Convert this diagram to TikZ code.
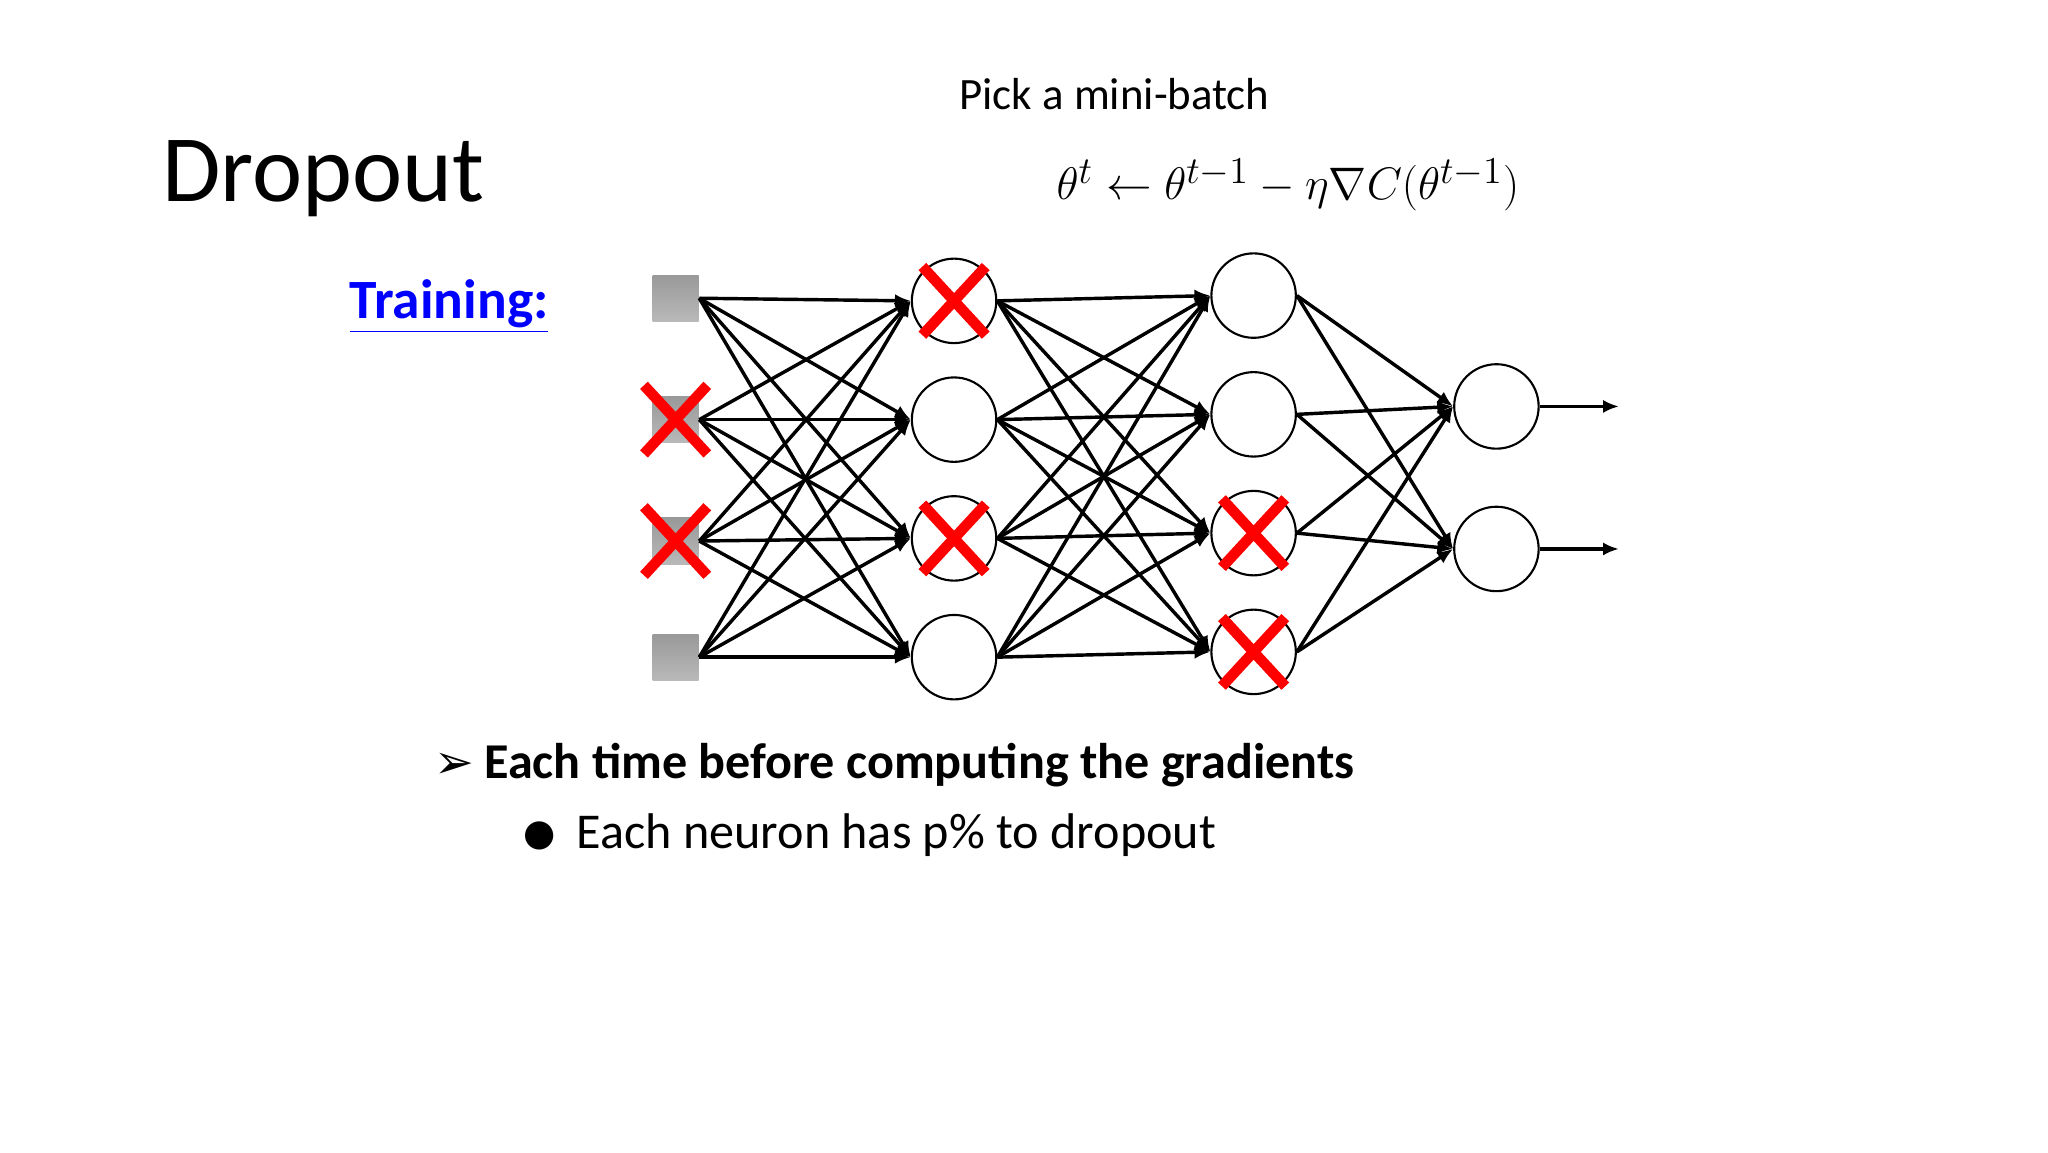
\documentclass[tikz,border=0pt]{standalone}
\usepackage{fontspec}
\setmainfont{Carlito}
\newfontfamily\djv{DejaVu Sans}
\usetikzlibrary{arrows.meta,calc}
\begin{document}
\begin{tikzpicture}[x=0.5pt,y=-0.5pt,
  inp/.style={draw=none,minimum size=17.5pt,inner sep=0pt,top color=gray!80,bottom color=gray!55},
  neu/.style={circle,draw,thick,minimum size=32pt,inner sep=0pt,fill=white},
  edge/.style={line width=1.3pt,-{Latex[length=6pt,width=5pt]}},
  drop/.style={red,line width=4pt}]
\useasboundingbox (0,0) rectangle (1552,873);
\fill[white] (0,0) rectangle (1552,873);
\node[anchor=base west,font=\fontsize{36}{40}\selectfont] (title) at (116,153) {Dropout};
\node[anchor=base west,font=\fontsize{17}{20}\selectfont] (pick) at (720,83) {Pick a mini-batch};
\node[font=\fontsize{19}{22}\selectfont] (eq) at (976,140) {$\theta^t \leftarrow \theta^{t-1} - \eta\nabla C(\theta^{t-1})$};
\node[anchor=base west,font=\fontsize{21}{24}\selectfont\bfseries,text=blue] (train) at (258,241) {\underline{Training:}};
% layers
\foreach \i/\y in {1/226,2/318,3/410,4/498} \node[inp] (a\i) at (512,\y) {};
\foreach \i/\y in {1/228,2/318,3/408,4/498} \node[neu] (b\i) at (723,\y) {};
\foreach \i/\y in {1/224,2/314,3/404,4/494} \node[neu] (c\i) at (950,\y) {};
\foreach \i/\y in {1/308,2/416} \node[neu] (d\i) at (1134,\y) {};
\foreach \i in {1,...,4} \foreach \j in {1,...,4} {
  \draw[edge] (a\i.east) -- (b\j.west);
  \draw[edge] (b\i.east) -- (c\j.west);
}
\foreach \i in {1,...,4} \foreach \j in {1,2} \draw[edge] (c\i.east) -- (d\j.west);
\foreach \j in {1,2} {
  \coordinate (o\j) at ($(d\j.east)+(60,0)$);
  \draw[edge] (d\j.east) -- (o\j);
}
% dropped units
\foreach \n in {a2,a3,b1,b3,c3,c4} {
  \draw[drop] ($(\n)+(-24,-26)$) -- ($(\n)+(24,26)$);
  \draw[drop] ($(\n)+(-24,26)$) -- ($(\n)+(24,-26)$);
}
\node[anchor=base west,font=\fontsize{18}{22}\selectfont\djv] (b1t) at (322,590) {➢};
\node[anchor=base west,font=\fontsize{19}{22}\selectfont\bfseries] (l1) at (360,590) {Each time before computing the gradients};
\node[anchor=base west,font=\fontsize{14}{22}\selectfont\djv] (b2t) at (390,641) {●};
\node[anchor=base west,font=\fontsize{19}{22}\selectfont] (l2) at (430,643) {Each neuron has p\% to dropout};
\end{tikzpicture}
\end{document}
